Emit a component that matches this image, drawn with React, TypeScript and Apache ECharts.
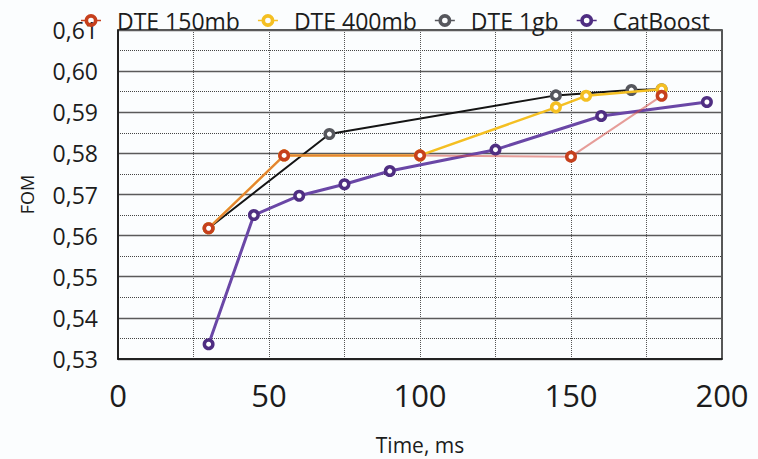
import React, { useEffect, useRef } from "react";
import * as echarts from "echarts";

// FOM vs. inference time for the three DTE model sizes and CatBoost
const seriesNames = ["DTE 150mb", "DTE 400mb", "DTE 1gb", "CatBoost"];

const dte150mb: [number, number][] = [
  [30, 0.5618],
  [55, 0.5795],
  [100, 0.5795],
  [150, 0.5792],
  [180, 0.594],
];

const dte400mb: [number, number][] = [
  [30, 0.5618],
  [55, 0.5795],
  [100, 0.5795],
  [145, 0.5912],
  [155, 0.594],
  [180, 0.5956],
];

const dte1gb: [number, number][] = [
  [30, 0.5618],
  [70, 0.5847],
  [145, 0.5941],
  [170, 0.5954],
  [180, 0.5956],
];

const catBoost: [number, number][] = [
  [30, 0.5336],
  [45, 0.565],
  [60, 0.5697],
  [75, 0.5725],
  [90, 0.5757],
  [125, 0.5809],
  [160, 0.5891],
  [195, 0.5925],
];

const FONT = '"Open Sans", "Noto Sans", sans-serif';
const TEXT = "#1c1c1c";

const MARKER_COLORS: Record<string, string> = {
  "DTE 150mb": "#c6401d",
  "DTE 400mb": "#f4bf22",
  "DTE 1gb": "#56575d",
  CatBoost: "#4f2e82",
};

// legend glyph: thick ring with a short stub on each side
const RING_ICON =
  "path://M0,5.8L3.6,5.8L3.6,7.2L0,7.2Z" +
  "M16.4,5.8L20,5.8L20,7.2L16.4,7.2Z" +
  "M3.5,6.5A6.5,6.5 0 1 1 16.5,6.5A6.5,6.5 0 1 1 3.5,6.5Z" +
  "M7.2,6.5A2.8,2.8 0 1 0 12.8,6.5A2.8,2.8 0 1 0 7.2,6.5Z";

export default function App() {
  const ref = useRef<HTMLDivElement>(null);

  useEffect(() => {
    if (!ref.current) return;
    const chart = echarts.init(ref.current, undefined, { renderer: "svg" });

    // ring markers: white centre, thick coloured border
    const marker = (name: string) => ({
      symbol: "circle",
      symbolSize: 8.5,
      itemStyle: {
        color: "#ffffff",
        borderColor: MARKER_COLORS[name],
        borderWidth: 3.5,
      },
    });

    chart.setOption({
      animation: false,
      backgroundColor: "#fbfdfe",
      textStyle: { fontFamily: FONT },
      legend: {
        data: seriesNames.map((name) => ({
          name,
          icon: RING_ICON,
          itemStyle: { color: MARKER_COLORS[name], borderWidth: 0 },
        })),
        left: 81,
        top: 9,
        padding: 0,
        itemWidth: 20,
        itemHeight: 13,
        itemGap: 18,
        textStyle: {
          fontFamily: FONT,
          fontSize: 23,
          color: TEXT,
          padding: [0, 0, 0, 11],
        },
      },
      grid: {
        left: 118,
        right: 36,
        top: 30,
        bottom: 100,
        containLabel: false,
        outerBoundsMode: "none",
        show: true,
        borderColor: "#222",
        borderWidth: 1.5,
      },
      xAxis: {
        type: "value",
        min: 0,
        max: 200,
        interval: 50,
        name: "Time, ms",
        nameLocation: "middle",
        nameGap: 75,
        nameTextStyle: { fontFamily: FONT, fontSize: 21, color: TEXT },
        axisLine: { show: true, lineStyle: { color: "#111", width: 1.5 } },
        axisTick: { show: false },
        axisLabel: {
          fontFamily: FONT,
          fontSize: 31,
          color: TEXT,
          margin: 20,
        },
        splitLine: {
          show: true,
          lineStyle: { color: "#555", type: "dotted", width: 1 },
        },
        minorTick: { show: false, splitNumber: 2 },
        minorSplitLine: {
          show: true,
          lineStyle: { color: "#555", type: "dotted", width: 1 },
        },
      },
      yAxis: {
        type: "value",
        min: 0.53,
        max: 0.61,
        interval: 0.01,
        name: "FOM",
        nameLocation: "middle",
        nameGap: 82,
        nameTextStyle: { fontFamily: FONT, fontSize: 18, color: TEXT },
        axisLine: { show: true, lineStyle: { color: "#111", width: 1.5 } },
        axisTick: { show: false },
        axisLabel: {
          fontFamily: FONT,
          fontSize: 23,
          color: TEXT,
          margin: 20,
          formatter: (v: number) => v.toFixed(2).replace(".", ","),
        },
        splitLine: {
          show: true,
          lineStyle: { color: "#5a5a5a", type: "solid", width: 1.3 },
        },
        minorTick: { show: false, splitNumber: 2 },
        minorSplitLine: {
          show: true,
          lineStyle: { color: "#444", type: "dotted", width: 1 },
        },
      },
      series: [
        {
          name: "DTE 400mb",
          type: "line",
          data: dte400mb,
          z: 3,
          ...marker("DTE 400mb"),
          lineStyle: { color: "#f4bf22", width: 2.5 },
        },
        {
          name: "DTE 1gb",
          type: "line",
          data: dte1gb,
          z: 2,
          ...marker("DTE 1gb"),
          lineStyle: { color: "#141414", width: 2 },
        },
        {
          name: "CatBoost",
          type: "line",
          data: catBoost,
          z: 2,
          ...marker("CatBoost"),
          lineStyle: { color: "#6a47a6", width: 3 },
        },
        {
          name: "DTE 150mb",
          type: "line",
          data: dte150mb,
          z: 5,
          ...marker("DTE 150mb"),
          lineStyle: { color: "rgba(214, 78, 70, 0.55)", width: 2 },
        },
      ],
    });

    return () => chart.dispose();
  }, []);

  return (
    <div
      ref={ref}
      style={{ position: "absolute", left: 0, top: 0, width: 758, height: 459 }}
    />
  );
}
